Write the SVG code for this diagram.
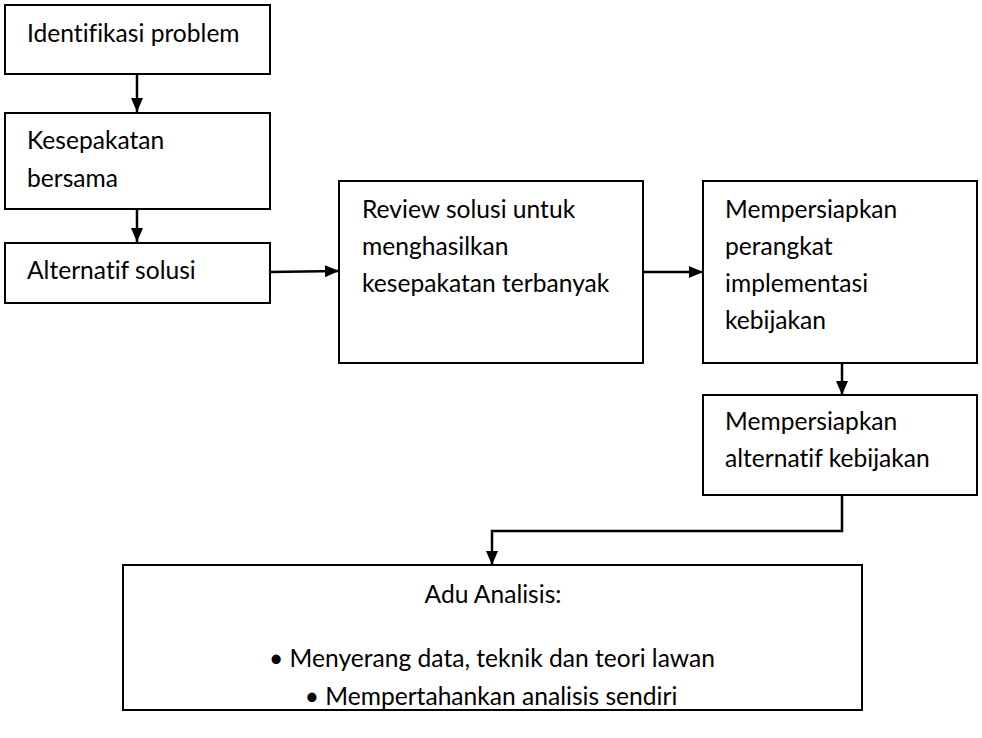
<svg xmlns="http://www.w3.org/2000/svg" width="982" height="738" viewBox="0 0 982 738">
<defs>
<style>
.box{fill:#fff;stroke:#000;stroke-width:2}
.t{font-family:Lato,"Open Sans","Liberation Sans",sans-serif;font-size:24.6px;fill:#000;font-variant-ligatures:none}
.c{text-anchor:middle}
.ln{fill:none;stroke:#000;stroke-width:2.5}
</style>
<marker id="ah" viewBox="0 0 14 12" refX="14" refY="6" markerWidth="14" markerHeight="12" markerUnits="userSpaceOnUse" orient="auto">
<path d="M0,0 L14,6 L0,12 Z" fill="#000"/>
</marker>
</defs>
<rect width="982" height="738" fill="#fff"/>
<g id="connectors">
<path class="ln" d="M137,74 V112" marker-end="url(#ah)"/>
<path class="ln" d="M137,209 V242" marker-end="url(#ah)"/>
<path class="ln" d="M270,272 L339,271" marker-end="url(#ah)"/>
<path class="ln" d="M643,272 H703" marker-end="url(#ah)"/>
<path class="ln" d="M842,363 V395" marker-end="url(#ah)"/>
<path class="ln" d="M842,495 V531 H492 V565" marker-end="url(#ah)"/>
</g>
<g id="n1"><rect class="box" x="5" y="5" width="265" height="69"/>
<text class="t" x="27" y="42">Identifikasi problem</text></g>
<g id="n2"><rect class="box" x="5" y="113" width="265" height="96"/>
<text class="t" x="27" y="149">Kesepakatan</text><text class="t" x="27" y="187">bersama</text></g>
<g id="n3"><rect class="box" x="5" y="243" width="265" height="60"/>
<text class="t" x="27" y="279">Alternatif solusi</text></g>
<g id="n4"><rect class="box" x="339" y="181" width="304" height="182"/>
<text class="t" x="362" y="218">Review solusi untuk</text><text class="t" x="362" y="255">menghasilkan</text><text class="t" x="362" y="292">kesepakatan terbanyak</text></g>
<g id="n5"><rect class="box" x="703" y="181" width="274" height="182"/>
<text class="t" x="725" y="218">Mempersiapkan</text><text class="t" x="725" y="255">perangkat</text><text class="t" x="725" y="292">implementasi</text><text class="t" x="725" y="329">kebijakan</text></g>
<g id="n6"><rect class="box" x="703" y="395" width="274" height="100"/>
<text class="t" x="725" y="430">Mempersiapkan</text><text class="t" x="725" y="467">alternatif kebijakan</text></g>
<g id="n7"><rect class="box" x="123" y="565" width="739" height="145"/>
<text class="t c" x="493" y="603">Adu Analisis:</text>
<text class="t c" x="492" y="667">• Menyerang data, teknik dan teori lawan</text>
<text class="t c" x="491" y="705">• Mempertahankan analisis sendiri</text></g>
</svg>
